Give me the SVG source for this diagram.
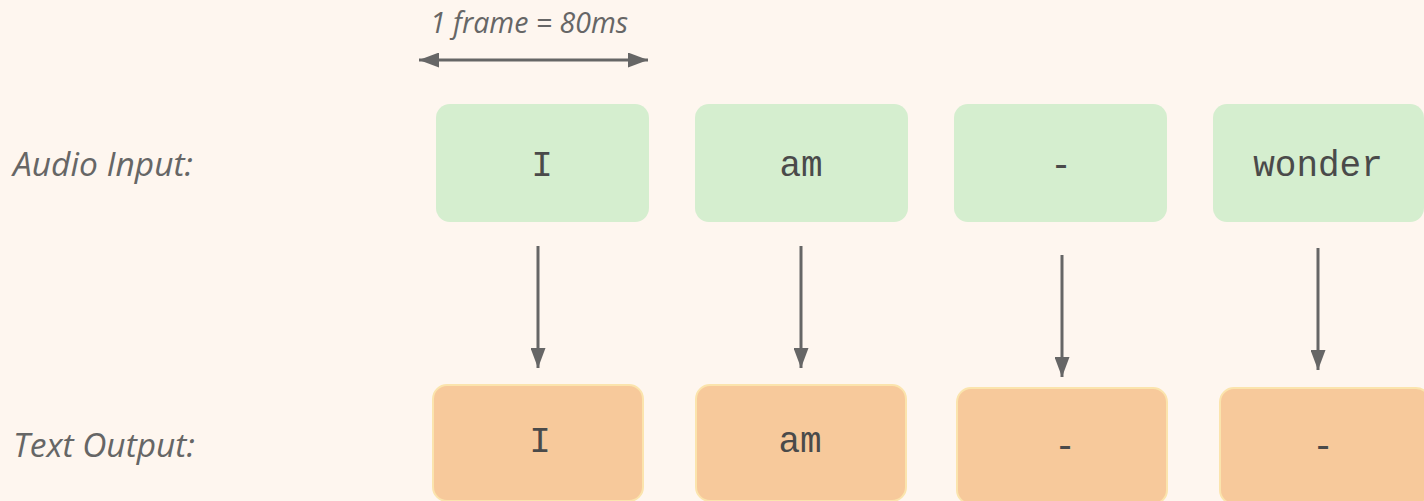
<svg xmlns="http://www.w3.org/2000/svg" width="1424" height="501" viewBox="0 0 1424 501">
  <defs>
    <marker id="head" markerUnits="userSpaceOnUse" markerWidth="20" markerHeight="15" refX="20" refY="7.5" orient="auto-start-reverse">
      <path d="M0,0 L20,7.5 L0,15 z" fill="#666666"/>
    </marker>
  </defs>
  <style>
    .label { font-family: "Open Sans", "Liberation Sans", sans-serif; font-style: italic; fill: #666666; }
    .in { fill: #d5eecf; }
    .out { fill: #f7c99b; stroke: #fbe4ad; stroke-width: 2; }
    .mono { font-family: "Liberation Mono", "DejaVu Sans Mono", monospace; font-size: 36px; fill: #4a4a4a; text-anchor: middle; }
    .conn { stroke: #666666; stroke-width: 3; fill: none; marker-end: url(#head); }
  </style>
  <rect width="1424" height="501" fill="#fef6ef"/>

  <!-- frame duration scale -->
  <g id="frame-scale">
    <text class="label" x="430" y="33" font-size="28.5">1 frame = 80ms</text>
    <line x1="419" y1="60" x2="648" y2="60" stroke="#666666" stroke-width="3" marker-start="url(#head)" marker-end="url(#head)"/>
  </g>

  <!-- row labels -->
  <g id="label-audio"><text class="label" x="13" y="176" font-size="33.5">Audio Input:</text></g>
  <g id="label-text"><text class="label" x="13" y="457" font-size="33.5">Text Output:</text></g>

  <!-- audio frames -->
  <g id="in-1"><rect class="in" x="436" y="104" width="213" height="118" rx="14"/><text class="mono" x="542" y="176">I</text></g>
  <g id="in-2"><rect class="in" x="695" y="104" width="213" height="118" rx="14"/><text class="mono" x="801" y="176">am</text></g>
  <g id="in-3"><rect class="in" x="954" y="104" width="213" height="118" rx="14"/><text class="mono" x="1061" y="176">-</text></g>
  <g id="in-4"><rect class="in" x="1213" y="104" width="211" height="118" rx="14"/><text class="mono" x="1318" y="176">wonder</text></g>

  <!-- text output frames -->
  <g id="out-1"><rect class="out" x="433" y="385" width="210" height="116" rx="14"/><text class="mono" x="540" y="452">I</text></g>
  <g id="out-2"><rect class="out" x="696" y="385" width="210" height="116" rx="14"/><text class="mono" x="800" y="452">am</text></g>
  <g id="out-3"><rect class="out" x="957" y="388" width="210" height="116" rx="14"/><text class="mono" x="1065" y="457">-</text></g>
  <g id="out-4"><rect class="out" x="1220" y="388" width="210" height="116" rx="14"/><text class="mono" x="1323" y="457">-</text></g>

  <!-- connectors -->
  <g id="connectors">
    <line class="conn" x1="538" y1="246" x2="538" y2="368"/>
    <line class="conn" x1="801" y1="246" x2="801" y2="368"/>
    <line class="conn" x1="1062" y1="255" x2="1062" y2="377"/>
    <line class="conn" x1="1318" y1="248" x2="1318" y2="370"/>
  </g>
</svg>
